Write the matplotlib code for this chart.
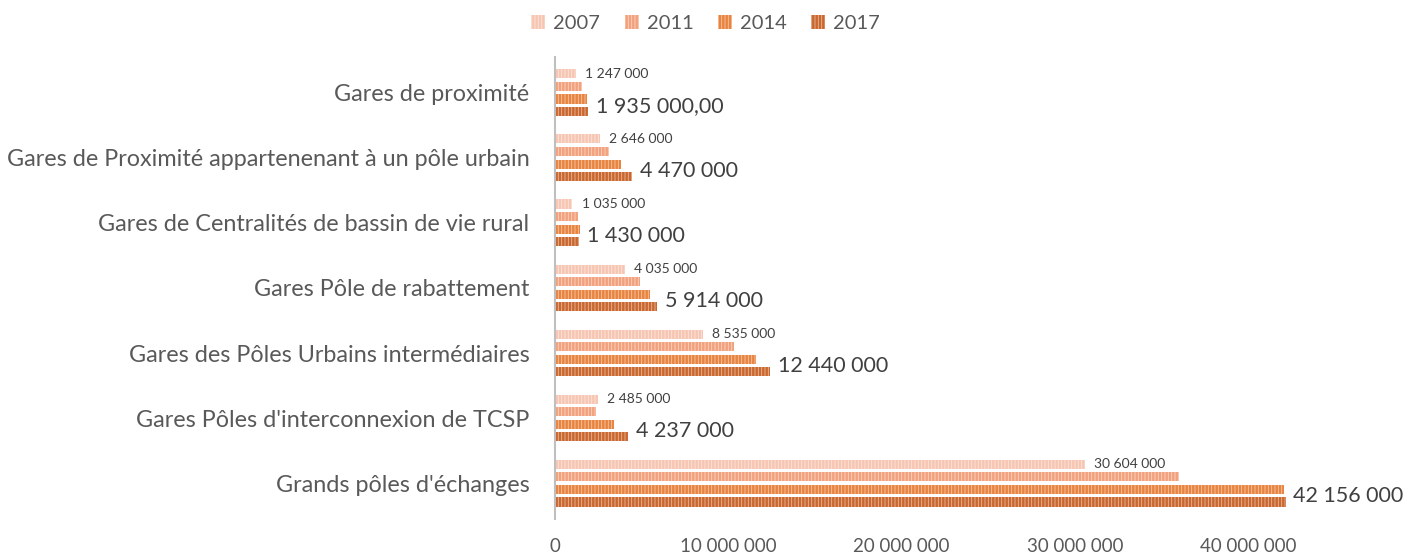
import matplotlib.pyplot as plt
import numpy as np

plt.rcParams['font.family'] = ['Lato', 'DejaVu Sans']
plt.rcParams['hatch.linewidth'] = 0.6

# data
categories = ["Gares de proximité",
              "Gares de Proximité appartenenant à un pôle urbain",
              "Gares de Centralités de bassin de vie rural",
              "Gares Pôle de rabattement",
              "Gares des Pôles Urbains intermédiaires",
              "Gares Pôles d'interconnexion de TCSP",
              "Grands pôles d'échanges"]
years = ["2007", "2011", "2014", "2017"]
v2007 = [1247000, 2646000, 1035000, 4035000, 8535000, 2485000, 30604000]
v2011 = [1580000, 3120000, 1350000, 4900000, 10350000, 2410000, 36000000]
v2014 = [1880000, 3810000, 1460000, 5510000, 11600000, 3410000, 42060000]
v2017 = [1935000, 4470000, 1430000, 5914000, 12440000, 4237000, 42156000]
labels2017 = ["1 935 000,00", "4 470 000", "1 430 000", "5 914 000",
              "12 440 000", "4 237 000", "42 156 000"]
colors = ["#F7C6B3", "#F2A17C", "#E8843F", "#C9672E"]

def fmt(v):
    return f"{v:,}".replace(",", " ")

fig = plt.figure(figsize=(14.11, 5.58), dpi=100)
ax = fig.add_axes([0.393, 0.07, 0.6, 0.828])

y = np.arange(len(categories))
pitch = 0.193
h = 0.14
series = [v2007, v2011, v2014, v2017]
for j, vals in enumerate(series):
    ax.barh(y + (j - 1.5) * pitch, vals, height=h, color=colors[j],
            edgecolor=(1, 1, 1, 0.55), linewidth=0, hatch='|||||',
            label=years[j])

# data labels
for i in range(len(categories)):
    ax.annotate(fmt(v2007[i]), (v2007[i], y[i] - 1.5 * pitch),
                xytext=(6.5, 0), textcoords='offset points',
                va='center', ha='left', fontsize=10, color='#404040')
    ax.annotate(labels2017[i], (v2017[i], y[i] + 1.5 * pitch),
                xytext=(5.5, 4), textcoords='offset points',
                va='center', ha='left', fontsize=15.5, color='#404040')

ax.set_xlim(0, 48.8e6)
ax.set_ylim(6.55, -0.55)
ax.set_yticks(y)
ax.set_yticklabels(categories, fontsize=16.8, color='#595959')
ticks = [0, 10000000, 20000000, 30000000, 40000000]
ax.set_xticks(ticks)
ax.set_xticklabels([fmt(t) for t in ticks], fontsize=13.5, color='#595959')
ax.tick_params(axis='both', length=0)
ax.tick_params(axis='x', pad=14)
ax.tick_params(axis='y', pad=18)
for s in ['top', 'right', 'bottom']:
    ax.spines[s].set_visible(False)
ax.spines['left'].set_color('#BFBFBF')
ax.spines['left'].set_linewidth(1.5)

fig.legend(loc='upper center', bbox_to_anchor=(0.5, 1.005), ncol=4,
           frameon=False, fontsize=14.5, handlelength=0.7, handleheight=0.7,
           handletextpad=0.4, columnspacing=1.2, labelcolor='#595959')

fig.savefig('out.png', dpi=100)
